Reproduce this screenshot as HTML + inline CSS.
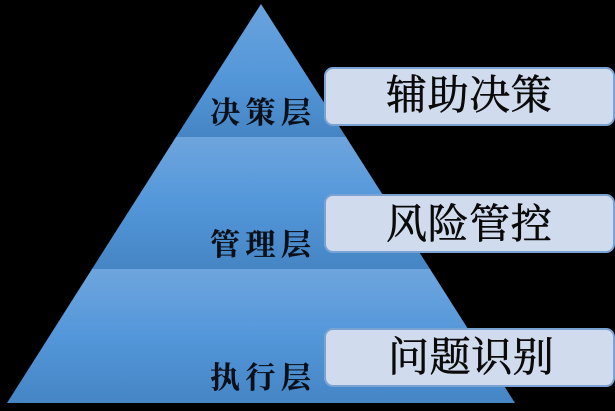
<!DOCTYPE html>
<html><head><meta charset="utf-8"><style>
html,body{margin:0;padding:0;background:#000;width:615px;height:411px;overflow:hidden}
svg{display:block}
.l{font-family:"Liberation Serif","Noto Serif CJK SC",serif;font-size:30px;font-weight:700;fill:#0a0f18;letter-spacing:5.5px;stroke:#0a0f18;stroke-width:.2}
.b{font-family:"Liberation Serif","Noto Serif CJK SC",serif;font-size:41px;fill:#0a0a0a;letter-spacing:.6px;stroke:#0a0a0a;stroke-width:.6}
</style></head><body>
<svg width="615" height="411" viewBox="0 0 615 411" xmlns="http://www.w3.org/2000/svg">
<defs>
<linearGradient id="g1" x1="0" y1="0" x2="0" y2="1"><stop offset="0" stop-color="#69a3dd"/><stop offset=".55" stop-color="#5497d9"/><stop offset="1" stop-color="#4585c4"/></linearGradient>
<linearGradient id="g2" x1="0" y1="0" x2="0" y2="1"><stop offset="0" stop-color="#6ea5dd"/><stop offset=".5" stop-color="#5397da"/><stop offset="1" stop-color="#4585c4"/></linearGradient>
</defs>
<rect width="615" height="411" fill="#000"/>
<polygon points="261,4 346,137 176,137" fill="url(#g1)"/>
<polygon points="176,137 346,137 430,269 92,269" fill="url(#g2)"/>
<polygon points="92,269 430,269 515,403 7,403" fill="url(#g2)"/>
<g fill="#d0dbee" stroke="#7aa3d4" stroke-width="2">
<rect x="325" y="68" width="289" height="57" rx="8"/>
<rect x="325" y="195" width="289" height="57" rx="8"/>
<rect x="325" y="329" width="289" height="57" rx="8"/>
</g>
<text class="l" x="210" y="123">决策层</text>
<text class="l" x="210" y="255">管理层</text>
<text class="l" x="210" y="388">执行层</text>
<text class="b" x="386" y="109">辅助决策</text>
<text class="b" x="386" y="238">风险管控</text>
<text class="b" x="388" y="371">问题识别</text>
</svg>
</body></html>
